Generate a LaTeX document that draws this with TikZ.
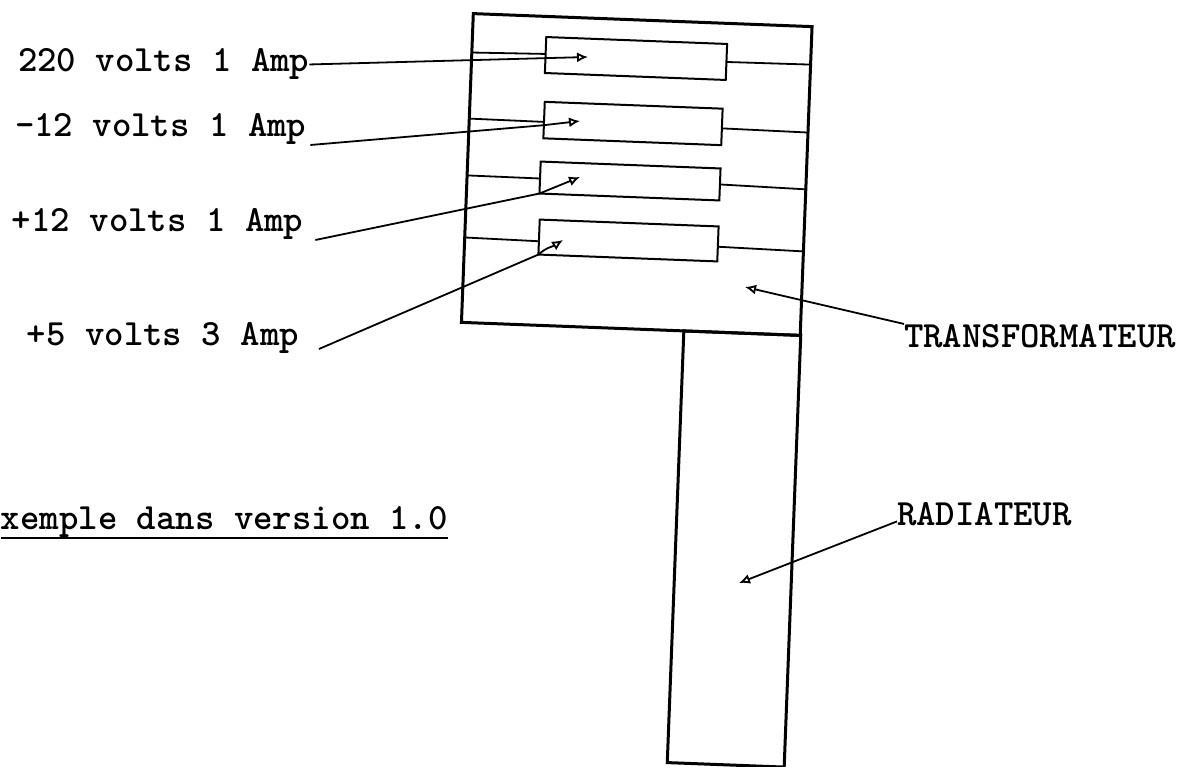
\documentclass[tikz,border=0pt]{standalone}
\usetikzlibrary{arrows.meta,calc}
\begin{document}
\begin{tikzpicture}[x=1pt,y=-1pt,
  every node/.style={inner sep=0pt, outer sep=0pt},
  typed/.style={font=\fontsize{37}{40}\selectfont\ttfamily\bfseries, text=black, anchor=base west},
  frame/.style={draw=black, line width=3pt, rectangle, rotate=-2.2},
  cell/.style={draw=black, line width=2pt, rectangle, rotate=-2.2},
  wire/.style={draw=black, line width=1.8pt},
  lead/.style={draw=black, line width=1.8pt},
  tip/.style={-{Latex[open,length=11pt,width=10pt]}},
]
\useasboundingbox (0,0) rectangle (1196,767);
\fill[white] (0,0) rectangle (1196,767);

% radiator and transformer housing
\node[frame, minimum width=117pt, minimum height=432pt] (rad) at (734,549) {};
\node[frame, minimum width=339pt, minimum height=309pt] (trans) at (636.75,174.5) {};

% inner windings
\node[cell, minimum width=181pt, minimum height=36pt] (b1) at (636,58.5) {};
\node[cell, minimum width=178pt, minimum height=36.5pt] (b2) at (633,123.5) {};
\node[cell, minimum width=180pt, minimum height=32pt] (b3) at (630,181) {};
\node[cell, minimum width=179pt, minimum height=35pt] (b4) at (628.5,240.5) {};

% wires left
\draw[wire] ($(trans.north west)!0.126!(trans.south west)$) -- ($(b1.north west)!0.47!(b1.south west)$);
\draw[wire] ($(trans.north west)!0.34!(trans.south west)$) -- ($(b2.north west)!0.55!(b2.south west)$);
\draw[wire] ($(trans.north west)!0.524!(trans.south west)$) -- ($(b3.north west)!0.53!(b3.south west)$);
\draw[wire] ($(trans.north west)!0.725!(trans.south west)$) -- ($(b4.north west)!0.62!(b4.south west)$);
% wires right
\draw[wire] ($(b1.north east)!0.5!(b1.south east)$) -- ($(trans.north east)!0.123!(trans.south east)$);
\draw[wire] ($(b2.north east)!0.54!(b2.south east)$) -- ($(trans.north east)!0.343!(trans.south east)$);
\draw[wire] ($(b3.north east)!0.5!(b3.south east)$) -- ($(trans.north east)!0.527!(trans.south east)$);
\draw[wire] ($(b4.north east)!0.58!(b4.south east)$) -- ($(trans.north east)!0.728!(trans.south east)$);

% labels
\node[typed] (l1) at (18,72) {220 volts 1 Amp};
\node[typed] (l2) at (15,137) {-12 volts 1 Amp};
\node[typed] (l3) at (12,232) {+12 volts 1 Amp};
\node[typed] (l4) at (27,345) {+5 volts 3 Amp};
\node[typed] (tname) at (904,347) {TRANSFORMATEUR};
\node[typed] (rname) at (897,525) {RADIATEUR};
\node[typed] (note) at (1,529) {xemple dans version 1.0};
\draw[wire] ([yshift=-9pt]note.base west) -- ([yshift=-9pt]note.base east);

% arrow tips inside the windings
\coordinate (t1) at (588,57);
\coordinate (t2) at (580,121);
\coordinate (t3) at (580,177);
\coordinate (t4) at (563,240);
\coordinate (tt) at (745,287);
\coordinate (tr) at (739,583);

\draw[lead,tip] (l1.east) -- (t1);
\draw[lead,tip] ([xshift=4pt]l2.south east) -- ($(b2.north west)!0.64!(b2.south west)$) -- (t2);
\draw[lead,tip] ([xshift=12pt]l3.south east) -- (b3.south west) -- (t3);
\draw[lead,tip] ([xshift=20pt,yshift=4pt]l4.south east) -- (b4.south west) .. controls (547,247) and (552,247) .. (t4);
\draw[lead,tip] (tname.north west) -- (tt);
\draw[lead,tip] ([yshift=4pt]rname.south west) -- (tr);
\end{tikzpicture}
\end{document}
